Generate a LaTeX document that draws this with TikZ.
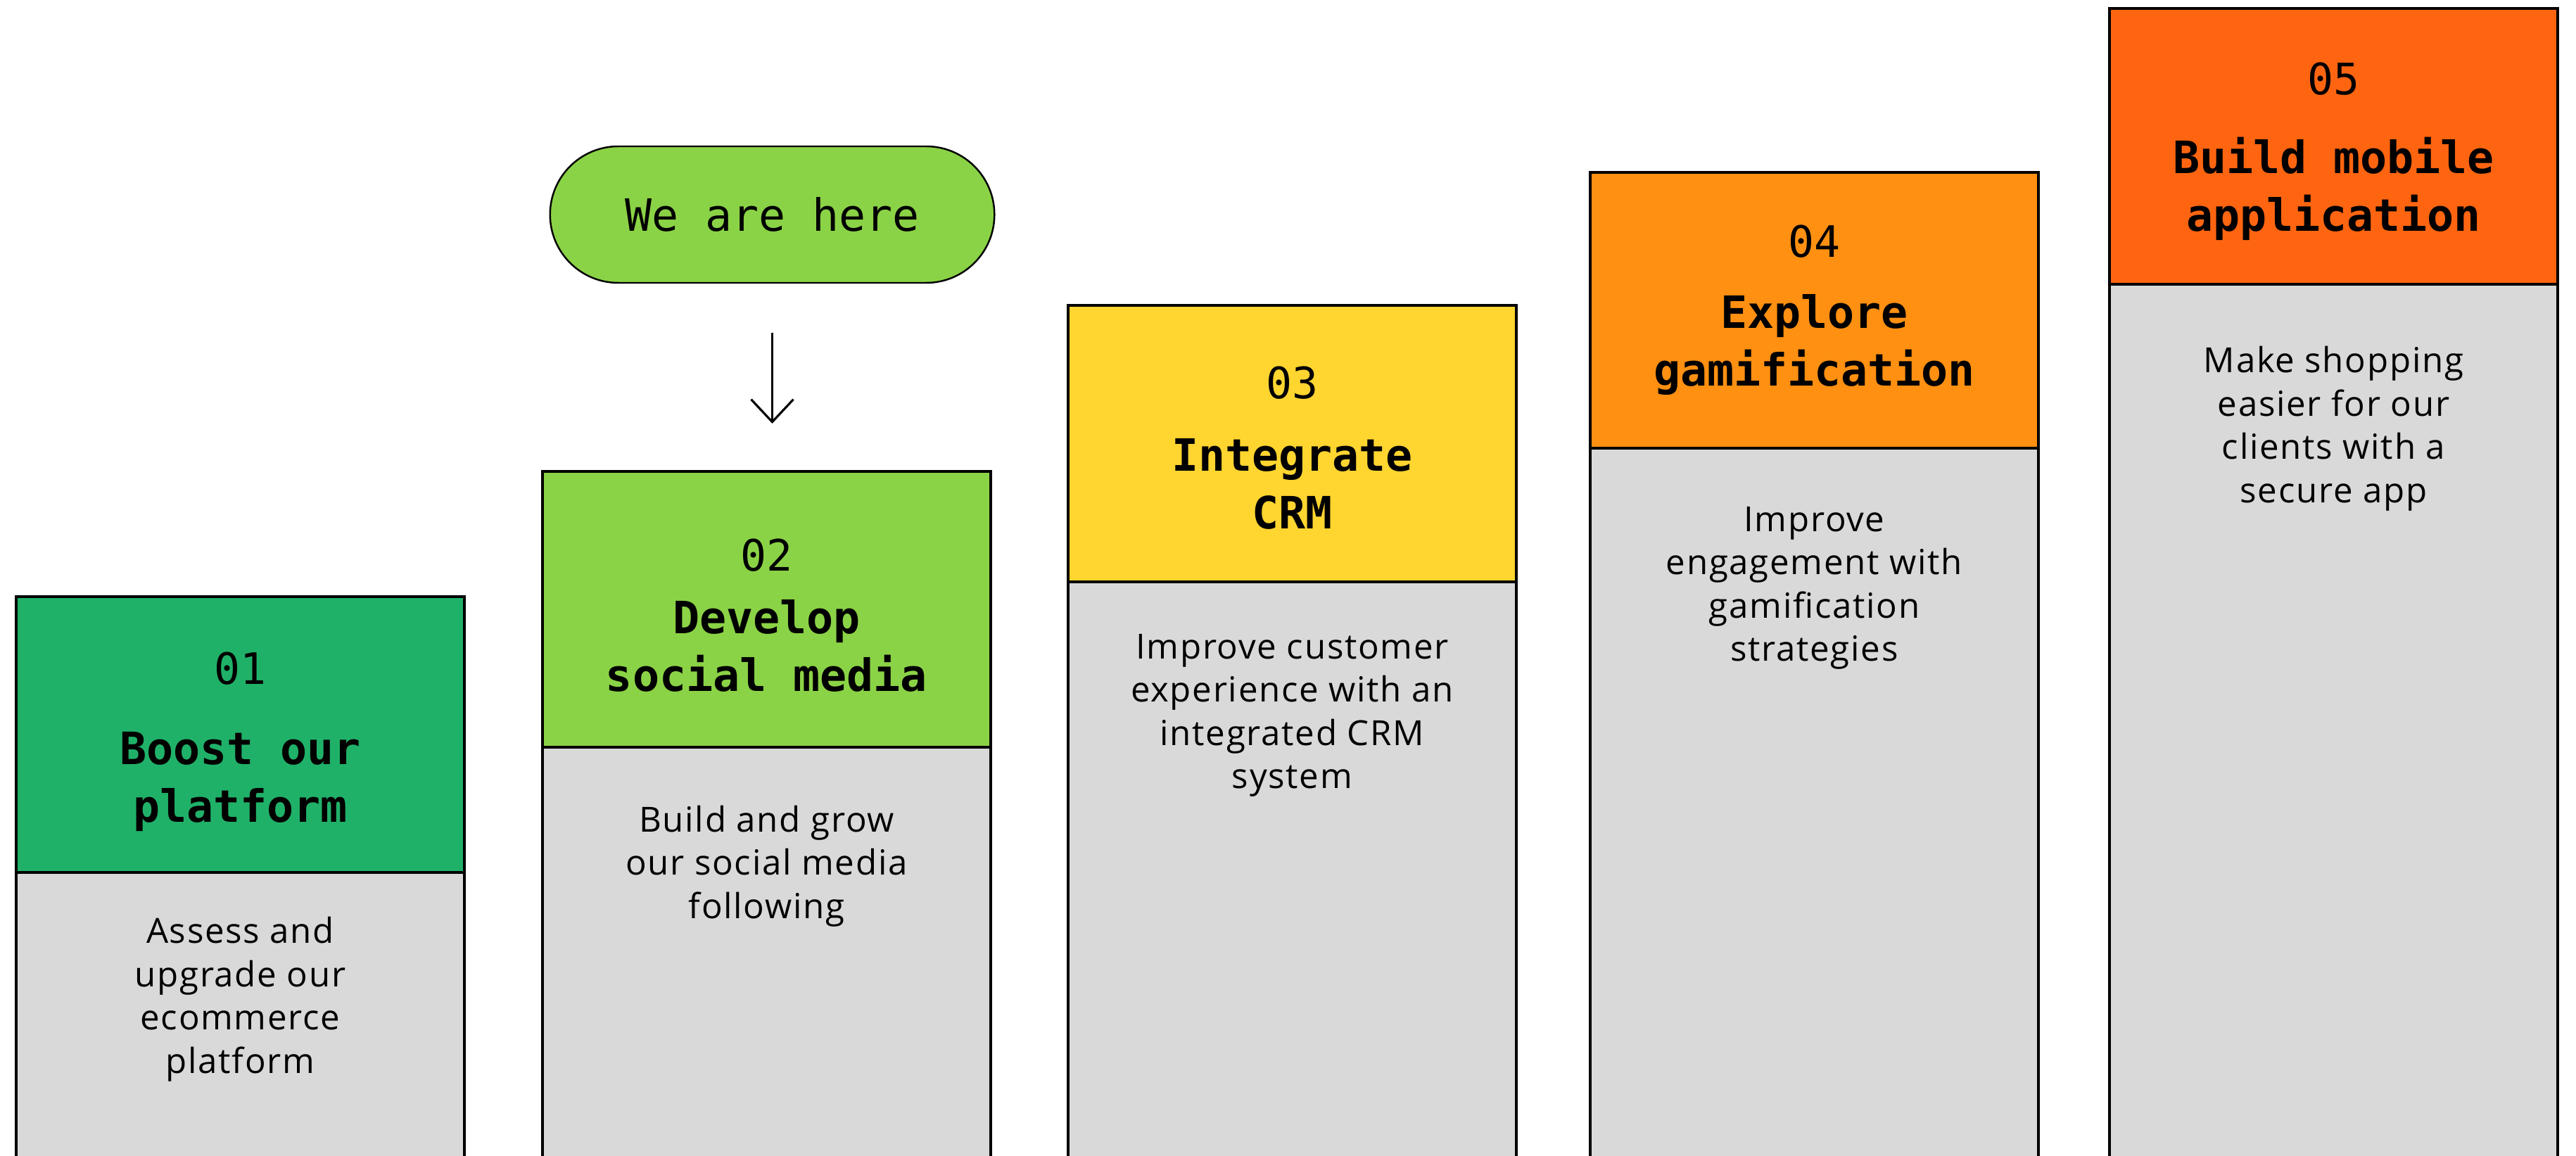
\documentclass[tikz,border=0pt]{standalone}
\usepackage{fontspec}
\setmainfont{Open Sans}[LetterSpace=3.5]
\newfontfamily\monofont{DejaVu Sans Mono}
\usetikzlibrary{arrows.meta,shapes.misc}

\definecolor{stepgreen}{HTML}{20B169}
\definecolor{steplime}{HTML}{8BD346}
\definecolor{stepyellow}{HTML}{FFD530}
\definecolor{steporange}{HTML}{FF9012}
\definecolor{stepred}{HTML}{FF6511}
\definecolor{bodygray}{HTML}{D9D9D9}

\tikzset{
  boxline/.style={draw=black, line width=1.1pt},
  numtext/.style={font=\monofont\fontsize{17.5}{21}\selectfont, inner sep=0pt},
  titletext/.style={font=\monofont\bfseries\fontsize{18}{23.3}\selectfont, align=center, inner sep=0pt},
  bodytext/.style={font=\fontsize{14}{17.5}\selectfont, align=center, inner sep=0pt},
  pill/.style={rounded rectangle, draw=black, line width=0.7pt, fill=steplime,
    minimum width=6.55cm, minimum height=1.94cm, font=\monofont\fontsize{18}{21}\selectfont},
}

\begin{document}
\begin{tikzpicture}
    \clip (0,0) rectangle (36.61,16.42);
    \fill[white] (0,0) rectangle (36.61,16.42);

    % Step 01
    \draw[boxline, fill=bodygray] (0.23,-0.2) rectangle (6.60,4.02);
    \draw[boxline, fill=stepgreen] (0.23,4.02) rectangle (6.60,7.94);
    \node[numtext] (n1) at (3.415,6.92) {01};
    \node[titletext] (t1) at (3.415,5.31) {Boost our\\platform};
    \node[bodytext] (b1) at (3.415,2.22) {Assess and\\upgrade our\\ecommerce\\platform};

    % Step 02
    \draw[boxline, fill=bodygray] (7.71,-0.2) rectangle (14.08,5.80);
    \draw[boxline, fill=steplime] (7.71,5.80) rectangle (14.08,9.72);
    \coordinate (h2) at (10.895,9.72);
    \node[numtext] (n2) at (10.895,8.53) {02};
    \node[titletext] (t2) at (10.895,7.24) {Develop\\social media};
    \node[bodytext] (b2) at (10.895,4.11) {Build and grow\\our social media\\following};

    % Step 03
    \draw[boxline, fill=bodygray] (15.18,-0.2) rectangle (21.55,8.15);
    \draw[boxline, fill=stepyellow] (15.18,8.15) rectangle (21.55,12.08);
    \node[numtext] (n3) at (18.365,10.98) {03};
    \node[titletext] (t3) at (18.365,9.54) {Integrate\\CRM};
    \node[bodytext] (b3) at (18.365,6.25) {Improve customer\\experience with an\\integrated CRM\\system};

    % Step 04
    \draw[boxline, fill=bodygray] (22.60,-0.2) rectangle (28.97,10.05);
    \draw[boxline, fill=steporange] (22.60,10.05) rectangle (28.97,13.97);
    \node[numtext] (n4) at (25.785,12.99) {04};
    \node[titletext] (t4) at (25.785,11.52) {Explore\\gamification};
    \node[bodytext] (b4) at (25.785,8.06) {Improve\\engagement with\\gamification\\strategies};

    % Step 05
    \draw[boxline, fill=bodygray] (29.98,-0.2) rectangle (36.35,12.38);
    \draw[boxline, fill=stepred] (29.98,12.38) rectangle (36.35,16.30);
    \node[numtext] (n5) at (33.165,15.30) {05};
    \node[titletext] (t5) at (33.165,13.74) {Build mobile\\application};
    \node[bodytext] (b5) at (33.165,10.33) {Make shopping\\easier for our\\clients with a\\secure app};

    % Marker above step 02
    \node[pill] (here) at (10.975,13.37) {We are here};
    \draw[-{Straight Barb[length=0.32cm,width=0.6cm]}, line width=0.9pt,
      shorten <=0.7cm, shorten >=0.68cm] (here.south) -- (here.south |- h2);

\end{tikzpicture}
\end{document}
